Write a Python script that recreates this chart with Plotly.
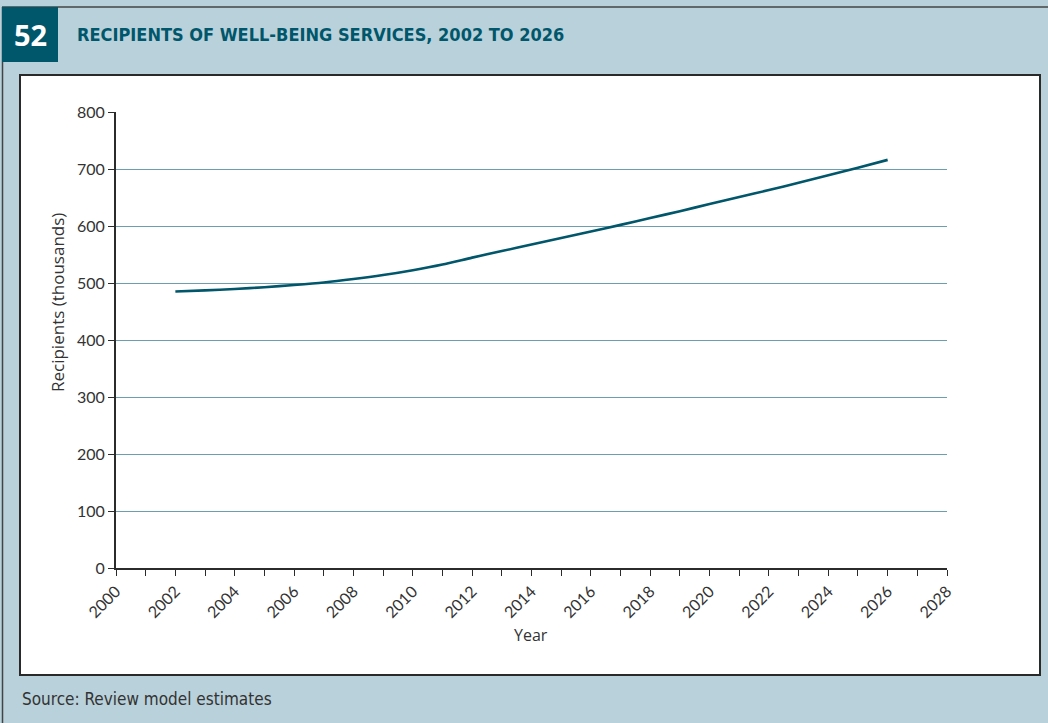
import plotly.graph_objects as go

years = [2002, 2003, 2004, 2005, 2006, 2007, 2008, 2009, 2010, 2011, 2012, 2013,
         2014, 2015, 2016, 2017, 2018, 2019, 2020, 2021, 2022, 2023, 2024, 2025, 2026]
recipients = [485, 487, 489.5, 492.5, 496.5, 501, 507, 514, 522.5, 532.5, 544.5, 556,
              567.5, 579, 590.5, 602, 614, 626, 638.5, 651, 663, 676, 689, 702, 716]
x_ticks = list(range(2000, 2029, 2))
y_ticks = list(range(0, 801, 100))

W, H = 1048, 723
BG = "#b9d1da"
TEAL = "#00566a"
GRID = "#6a9fb0"
AX = "#2b2b2b"

# plot area in pixels
x0p, x1p = 116, 947
y0p, y1p = 112, 568

fig = go.Figure()
fig.add_trace(go.Scatter(
    x=years, y=recipients, mode="lines",
    line=dict(color=TEAL, width=2.6, shape="spline", smoothing=0.7),
    hoverinfo="x+y", showlegend=False,
))

tick_font = dict(family="Lato, 'Open Sans', sans-serif", size=16, color="#333333")

fig.update_layout(
    width=W, height=H,
    margin=dict(l=0, r=0, t=0, b=0, autoexpand=False),
    paper_bgcolor=BG,
    plot_bgcolor="rgba(0,0,0,0)",
    xaxis=dict(
        domain=[x0p / W, x1p / W],
        range=[2000, 2028],
        tickmode="array", tickvals=x_ticks, ticktext=[str(v) for v in x_ticks],
        tickangle=-45,
        ticks="outside", ticklen=6, tickwidth=1.2, tickcolor=AX,
        minor=dict(dtick=1, tick0=2000, ticks="outside", ticklen=6, tickwidth=1.2, tickcolor=AX, showgrid=False),
        showline=True, linecolor=AX, linewidth=1.8,
        showgrid=False, zeroline=False,
        tickfont=tick_font,
        automargin=False,
        fixedrange=True,
    ),
    yaxis=dict(
        domain=[1 - y1p / H, 1 - y0p / H],
        range=[0, 800],
        tickmode="array", tickvals=y_ticks,
        ticks="outside", ticklen=6, tickwidth=1.2, tickcolor=AX,
        showline=True, linecolor=AX, linewidth=1.8,
        showgrid=True, gridcolor=GRID, gridwidth=1,
        zeroline=False,
        tickfont=tick_font,
        automargin=False,
        fixedrange=True,
    ),
    shapes=[
        # top border
        dict(type="line", xref="paper", yref="paper", x0=2 / W, x1=1, y0=1 - 7 / H, y1=1 - 7 / H,
             line=dict(color="#444444", width=1.5), layer="below"),
        # left border
        dict(type="line", xref="paper", yref="paper", x0=2.5 / W, x1=2.5 / W, y0=0, y1=1 - 7 / H,
             line=dict(color="#444444", width=1.5), layer="below"),
        # white panel
        dict(type="rect", xref="paper", yref="paper", x0=20 / W, x1=1040 / W, y0=1 - 675 / H, y1=1 - 75 / H,
             fillcolor="white", line=dict(color="#2a2a2a", width=2), layer="below"),
        # number box
        dict(type="rect", xref="paper", yref="paper", x0=2 / W, x1=58 / W, y0=1 - 62 / H, y1=1 - 7 / H,
             fillcolor="#00566a", line=dict(width=0), layer="below"),
    ],
    annotations=[
        dict(text="<b>52</b>", xref="paper", yref="paper", x=30 / W, y=1 - 34 / H,
             xanchor="center", yanchor="middle", showarrow=False,
             font=dict(family="'Open Sans', 'DejaVu Sans', sans-serif", size=29, color="white")),
        dict(text="<b>RECIPIENTS OF WELL-BEING SERVICES, 2002 TO 2026</b>", xref="paper", yref="paper",
             x=75 / W, y=1 - 34 / H, xanchor="left", yanchor="middle", showarrow=False,
             font=dict(family="'Liberation Sans Narrow', 'DejaVu Sans Condensed', sans-serif", size=18, color="#00566a")),
        dict(text="Recipients (thousands)", xref="paper", yref="paper", x=57 / W, y=1 - 303 / H,
             xanchor="center", yanchor="middle", textangle=-90, showarrow=False,
             font=dict(family="'Open Sans', Lato, sans-serif", size=17, color="#333333")),
        dict(text="Year", xref="paper", yref="paper", x=531 / W, y=1 - 635 / H,
             xanchor="center", yanchor="middle", showarrow=False,
             font=dict(family="'Open Sans', Lato, sans-serif", size=16, color="#333333")),
        dict(text="Source: Review model estimates", xref="paper", yref="paper", x=20 / W, y=1 - 699 / H,
             xanchor="left", yanchor="middle", showarrow=False,
             font=dict(family="'Liberation Sans Narrow', 'DejaVu Sans Condensed', sans-serif", size=17, color="#333333")),
    ],
)

fig.write_html("out.html",
               config={"displayModeBar": False, "staticPlot": False},
               post_script="document.body.style.margin='0';document.body.style.overflow='hidden';")
